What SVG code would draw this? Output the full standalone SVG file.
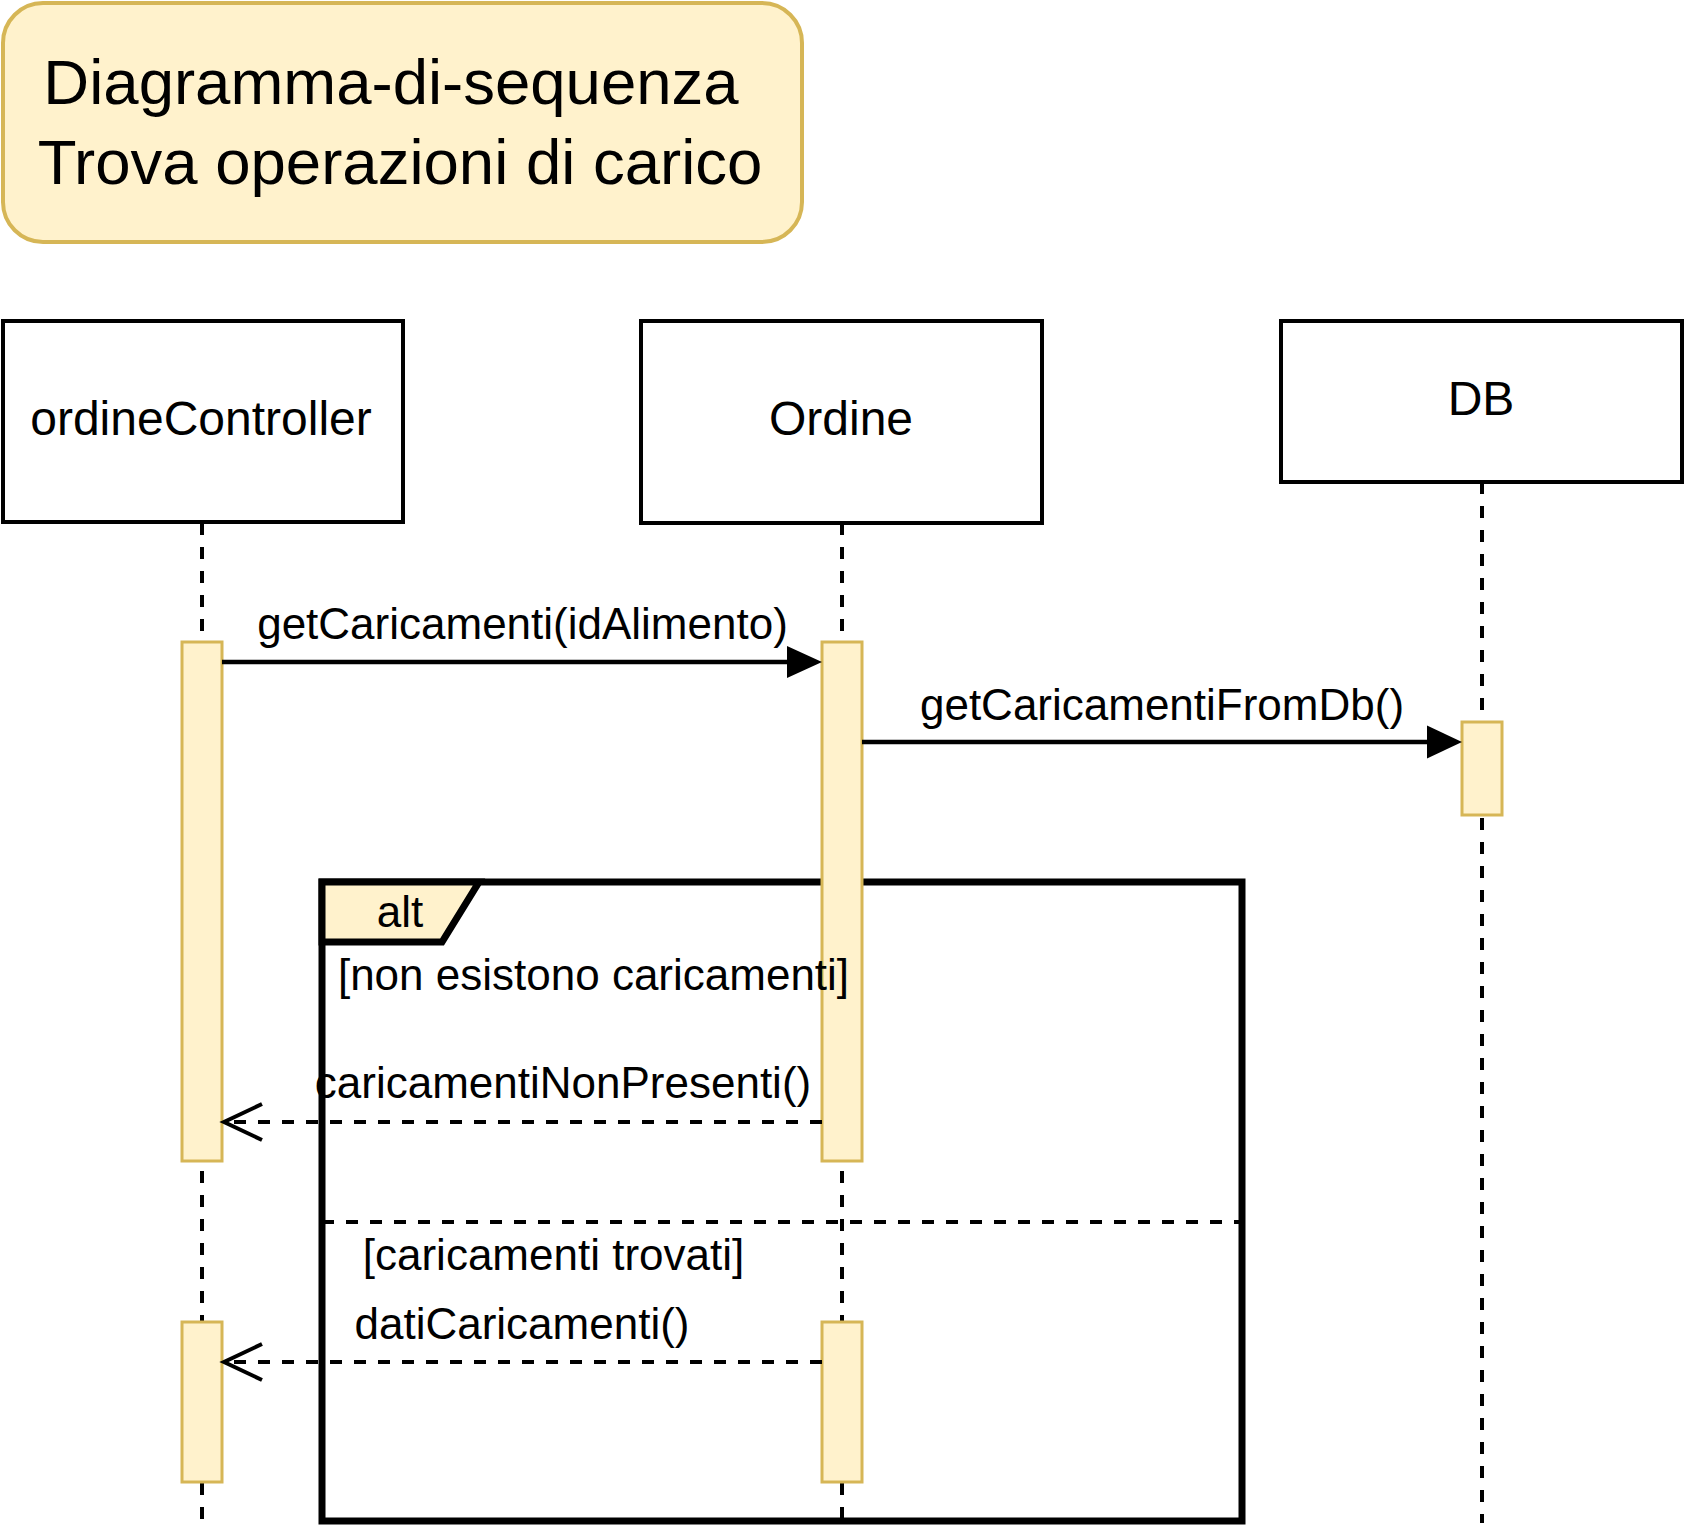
<svg xmlns="http://www.w3.org/2000/svg" width="1684" height="1528" viewBox="0 0 1684 1528">
  <style>
    text { font-family: "Liberation Sans", Arial, Helvetica, sans-serif; fill: #000; }
    .title { font-size: 63.5px; text-anchor: middle; }
    .lbl { font-size: 48px; text-anchor: middle; }
    .msg { font-size: 44px; text-anchor: middle; }
    .head { fill: #fff; stroke: #000; stroke-width: 4; }
    .life { stroke: #000; stroke-width: 4; stroke-dasharray: 12 12; fill: none; }
    .act { fill: #fff2cc; stroke: #d6b656; stroke-width: 3; }
    .call { stroke: #000; stroke-width: 4.4; fill: none; }
    .ret { stroke: #000; stroke-width: 4; stroke-dasharray: 12 12; fill: none; }
    .open { stroke: #000; stroke-width: 4; fill: none; }
  </style>

  <g id="title">
    <rect x="3" y="3" width="799" height="239" rx="40" ry="40" fill="#fff2cc" stroke="#d6b656" stroke-width="4"/>
    <text class="title" x="391" y="104">Diagramma-di-sequenza</text>
    <text class="title" x="400" y="184">Trova operazioni di carico</text>
  </g>

  <g id="lifelines">
    <line class="life" x1="202" y1="523" x2="202" y2="1523"/>
    <line class="life" x1="842" y1="523" x2="842" y2="1523"/>
    <line class="life" x1="1482" y1="482" x2="1482" y2="1523"/>
  </g>

  <g id="ordineController">
    <rect class="head" x="3" y="321" width="400" height="201"/>
    <text class="lbl" x="201" y="435">ordineController</text>
  </g>
  <g id="Ordine">
    <rect class="head" x="641" y="321" width="401" height="202"/>
    <text class="lbl" x="841" y="435">Ordine</text>
  </g>
  <g id="DB">
    <rect class="head" x="1281" y="321" width="401" height="161"/>
    <text class="lbl" x="1481" y="415">DB</text>
  </g>

  <g id="alt-frame">
    <rect x="322" y="882" width="920" height="639" fill="none" stroke="#000" stroke-width="7"/>
    <polygon points="322,882 479,882 442,942 322,942" fill="#fff2cc" stroke="#000" stroke-width="7" stroke-linejoin="miter"/>
    <line x1="322" y1="1222" x2="1242" y2="1222" stroke="#000" stroke-width="4" stroke-dasharray="12 12"/>
    <text class="msg" x="400" y="927">alt</text>
  </g>

  <g id="activations">
    <rect id="act-ctrl-1" class="act" x="182" y="642" width="40" height="519"/>
    <rect id="act-ordine-1" class="act" x="822" y="642" width="40" height="519"/>
    <rect id="act-db" class="act" x="1462" y="722" width="40" height="93"/>
    <rect id="act-ctrl-2" class="act" x="182" y="1322" width="40" height="160"/>
    <rect id="act-ordine-2" class="act" x="822" y="1322" width="40" height="160"/>
  </g>

  <g id="connectors">
    <line class="call" x1="222" y1="662" x2="788" y2="662"/>
    <polygon points="822,662 787,646 787,678" fill="#000"/>
    <line class="call" x1="862" y1="742" x2="1428" y2="742"/>
    <polygon points="1462,742 1427,725.5 1427,758.5" fill="#000"/>
    <line class="ret" x1="822" y1="1122" x2="224" y2="1122"/>
    <polyline class="open" points="262,1104 224,1122 262,1140"/>
    <line class="ret" x1="822" y1="1362" x2="224" y2="1362"/>
    <polyline class="open" points="262,1344 224,1362 262,1380"/>
  </g>

  <g id="labels">
    <text class="msg" x="522.5" y="639">getCaricamenti(idAlimento)</text>
    <text class="msg" x="1162" y="720">getCaricamentiFromDb()</text>
    <text class="msg" x="593.5" y="990">[non esistono caricamenti]</text>
    <text class="msg" x="563" y="1098">caricamentiNonPresenti()</text>
    <text class="msg" x="553.5" y="1270">[caricamenti trovati]</text>
    <text class="msg" x="522" y="1339">datiCaricamenti()</text>
  </g>
</svg>
